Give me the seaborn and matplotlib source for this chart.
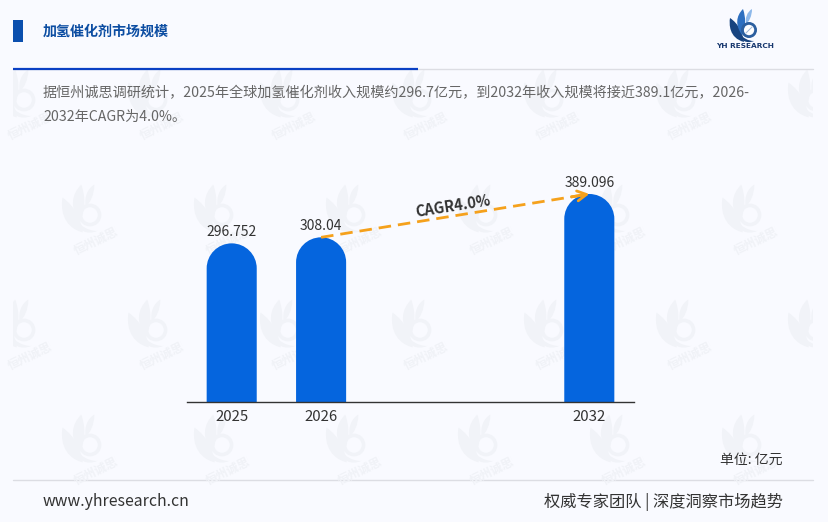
import matplotlib
matplotlib.use("Agg")
import pandas as pd
import seaborn as sns
import matplotlib.pyplot as plt
from matplotlib.path import Path
from matplotlib.patches import PathPatch, Circle, Rectangle

# chart data
years = ["2025", "2026", "2032"]
values = [296.752, 308.04, 389.096]
value_labels = ["296.752", "308.04", "389.096"]
slots = ["2025", "2026", "gap1", "gap2", "2032"]

title = "加氢催化剂市场规模"
intro_1 = "据恒州诚思调研统计，2025年全球加氢催化剂收入规模约296.7亿元，到2032年收入规模将接近389.1亿元，2026-"
intro_2 = "2032年CAGR为4.0%。"
cagr_label = "CAGR4.0%"
unit_label = "单位: 亿元"
site = "www.yhresearch.cn"
slogan = "权威专家团队 | 深度洞察市场趋势"
watermark = "恒州诚思"

BG = "#f9faff"
W, H = 829, 522

sns.set_theme(style="white")
plt.rcParams["font.family"] = ["Noto Sans CJK SC", "DejaVu Sans"]

fig = plt.figure(figsize=(W / 100, H / 100), dpi=100, facecolor=BG)

# page layer, in pixels from the top left
page = fig.add_axes([0, 0, 1, 1], zorder=0)
page.set_xlim(0, W)
page.set_ylim(H, 0)
page.axis("off")


def leaf(x0, y0, c1, c2, tip, c3, c4, color, cx, cy, s, clip=None):
    pts = [(x0, y0), c1, c2, tip, c3, c4, (x0, y0)]
    codes = [Path.MOVETO] + [Path.CURVE4] * 6
    pts = [(cx + p[0] * s, cy + p[1] * s) for p in pts]
    patch = PathPatch(Path(pts, codes), fc=color, ec="none")
    page.add_patch(patch)
    if clip is not None:
        patch.set_clip_path(clip)


def logo(cx, cy, s, colors, ring_lw, clip=None):
    leaf(-5, 12, (-20, 8), (-20, -6), (-19, -12), (-10, -6), (-6, 4), colors[0], cx, cy, s, clip)
    leaf(-7, 5, (-14, -5), (-13, -14), (-6, -21), (-3, -12), (-3, -4), colors[1], cx, cy, s, clip)
    leaf(-3, -6, (-4, -12), (-2, -18), (3, -21), (3, -14), (0, -8), colors[2], cx, cy, s, clip)
    # swoosh under the ring
    leaf(-10, 3, (-9, 11), (-2, 14), (5, 11), (-1, 11), (-6, 8), colors[0], cx, cy, s, clip)
    ring = Circle((cx, cy), 6.6 * s, fc="none", ec=colors[3], lw=ring_lw)
    page.add_patch(ring)
    if clip is not None:
        ring.set_clip_path(clip)


# watermark grid
clip_rect = Rectangle((13, 70), 800, 409, transform=page.transData)
wm_grey = "#f1f3f8"
for row, y in enumerate([100, 215, 330, 445]):
    start = 24 if row % 2 == 0 else 90
    for k in range(7):
        x = start + 132 * k
        if x > 829:
            continue
        logo(x, y, 1.45, [wm_grey] * 4, 2.6, clip_rect)
        # marks at the right edge lose their text behind the clip
        if x + 30 > 813:
            continue
        t = page.text(x + 6, y + 26, watermark, fontsize=8.6, fontweight="bold", color="#f0f2f7",
                      rotation=26, ha="center", va="center", rotation_mode="anchor")
        t.set_clip_path(clip_rect)

# header
page.add_patch(Rectangle((13, 20), 10, 22, fc="#0b4fae", ec="none"))
page.text(43, 32, title, fontsize=10.1, fontweight="bold", color="#0c4da2", va="center")
page.plot([13, 813], [68.5, 68.5], color="#dcdde3", lw=1)
page.plot([13, 418], [68.5, 68.5], color="#0a40c4", lw=1.6, solid_capstyle="butt")
logo(749, 30, 1.0, ["#17437f", "#2d6fc0", "#8db8ea", "#2c5f9f"], 2.0)
page.add_patch(Circle((749, 30), 4.4, fc="white", ec="none"))
page.plot([746, 749, 752], [33, 30, 27], color="#9db6d8", lw=0.7)
page.text(745, 46, "YH RESEARCH", fontsize=5.3, fontweight="bold", color="#17376e", ha="center", va="center",
          family=["DejaVu Sans"])

page.text(43, 93, intro_1, fontsize=10.18, color="#666666", va="center")
page.text(43, 117, intro_2, fontsize=10.18, color="#666666", va="center")

# footer
page.text(783, 460, unit_label, fontsize=10, color="#333333", ha="right", va="center")
page.plot([13, 813], [479.5, 479.5], color="#dcdde3", lw=1)
page.text(43, 502, site, fontsize=11.4, color="#333333", va="center")
page.text(783, 502, slogan, fontsize=11.7, color="#333333", ha="right", va="center")

# chart layer, baseline at y=402 and 0.5346 px per unit
ax = fig.add_axes([187 / W, 1 - 402 / H, 447 / W, 232 / H], zorder=1)
ax.patch.set_alpha(0)

df = pd.DataFrame({"year": years, "value": values})
sns.barplot(data=df, x="year", y="value", order=slots, color="#0565de", saturation=1, width=0.56, ax=ax)
ax.set_xlim(-0.5, 4.5)
ax.set_ylim(0, 232 / 0.5346)

# rounded bar tops: swap each bar for the same shape with a round end
ry = 25 / 0.5346
k = 0.5523
for bar in list(ax.patches):
    x0 = bar.get_x()
    w = bar.get_width()
    h = bar.get_height()
    rx = w / 2
    verts = [(x0, 0), (x0, h - ry),
             (x0, h - ry + k * ry), (x0 + rx - k * rx, h), (x0 + rx, h),
             (x0 + rx + k * rx, h), (x0 + w, h - ry + k * ry), (x0 + w, h - ry),
             (x0 + w, 0), (x0, 0)]
    codes = [Path.MOVETO, Path.LINETO, Path.CURVE4, Path.CURVE4, Path.CURVE4,
             Path.CURVE4, Path.CURVE4, Path.CURVE4, Path.LINETO, Path.CLOSEPOLY]
    ax.add_patch(PathPatch(Path(verts, codes), fc=bar.get_facecolor(), ec="none", zorder=2))
    bar.set_visible(False)

sns.despine(ax=ax, left=True)
ax.spines["bottom"].set_color("#333333")
ax.spines["bottom"].set_linewidth(1)
ax.set_xlabel("")
ax.set_ylabel("")
ax.set_yticks([])
ax.set_xticks([0, 1, 4])
ax.set_xticklabels(years, fontsize=10.8, color="#333333")
ax.tick_params(axis="x", length=0, pad=5.5)

for pos, val, lab in zip([0, 1, 4], values, value_labels):
    ax.annotate(lab, (pos, val), xytext=(0, 4), textcoords="offset pixels", ha="center", va="bottom",
                fontsize=10, color="#333333")

# CAGR arrow
ax.plot([1, 4], [values[1], values[2]], color="#f5a11c", lw=2, ls=(0, (4.5, 2.5)), zorder=4)
ax.annotate("", xy=(4, values[2]), xytext=(3.8, values[1] + (values[2] - values[1]) * 2.8 / 3),
            arrowprops=dict(arrowstyle="->,head_length=0.55,head_width=0.3", color="#f5a11c", lw=2,
                            shrinkA=0, shrinkB=0), zorder=4)
ax.text(2.48, 367, cagr_label, fontsize=10.6, fontweight="bold", color="#333333", rotation=9,
        ha="center", va="center", rotation_mode="anchor")

fig.savefig("out.png", dpi=100, facecolor=BG)
